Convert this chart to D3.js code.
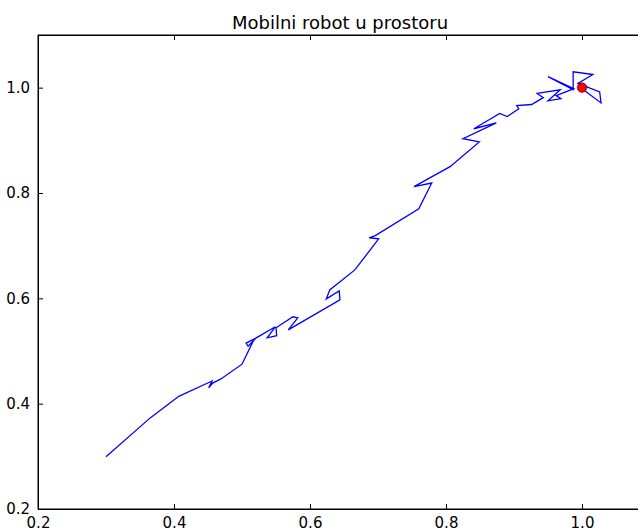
<!DOCTYPE html>
<html>
<head>
<meta charset="utf-8">
<script src="https://d3js.org/d3.v7.min.js"></script>
<style>
  body { margin: 0; background: #fff; }
  text { font-family: "DejaVu Sans", sans-serif; fill: #000; }
</style>
</head>
<body>
<div id="chart"></div>
<script>
// robot path
var pathX = [0.300, 0.365, 0.407, 0.456, 0.451, 0.457, 0.469, 0.500, 0.518, 0.506,
             0.509, 0.521, 0.549, 0.537, 0.551, 0.550, 0.575, 0.582, 0.568, 0.644,
             0.643, 0.624, 0.629, 0.666, 0.701, 0.687, 0.696, 0.760, 0.779, 0.753,
             0.806, 0.849, 0.825, 0.874, 0.841, 0.879, 0.890, 0.907, 0.904, 0.926,
             0.943, 0.934, 0.968, 0.950, 0.969, 0.962, 0.988, 0.950, 0.987, 0.987,
             1.016, 0.994, 1.026, 1.028, 1.000];
var pathY = [0.299, 0.373, 0.414, 0.443, 0.430, 0.439, 0.447, 0.475, 0.523, 0.515,
             0.509, 0.525, 0.546, 0.525, 0.529, 0.544, 0.565, 0.563, 0.540, 0.597,
             0.614, 0.599, 0.616, 0.654, 0.713, 0.715, 0.719, 0.770, 0.819, 0.812,
             0.850, 0.897, 0.903, 0.933, 0.922, 0.951, 0.945, 0.960, 0.966, 0.968,
             0.981, 0.989, 0.996, 0.975, 0.979, 0.985, 0.998, 1.021, 0.996, 1.030,
             1.025, 1.008, 0.992, 0.971, 0.998];
// goal position
var goalX = [1.0];
var goalY = [1.0];
var xTicks = [0.2, 0.4, 0.6, 0.8, 1.0];
var yTicks = [0.2, 0.4, 0.6, 0.8, 1.0];

var W = 638, H = 529;
var mLeft = 38, mTop = 35, mBottom = 509;

var svg = d3.select("#chart").append("svg")
    .attr("width", W)
    .attr("height", H)
    .style("display", "block");

var x = d3.scaleLinear().domain([0.2, 1.1]).range([mLeft, mLeft + 0.9 * 680]);
var y = d3.scaleLinear().domain([0.2, 1.1]).range([mBottom, mTop]);

// title
svg.append("text")
    .attr("x", 340)
    .attr("y", 29)
    .attr("text-anchor", "middle")
    .style("font-size", "18px")
    .text("Mobilni robot u prostoru");

// path
var pts = pathX.map(function (d, i) { return [d, pathY[i]]; });
var line = d3.line()
    .x(function (d) { return x(d[0]); })
    .y(function (d) { return y(d[1]); });

svg.append("path")
    .datum(pts)
    .attr("fill", "none")
    .attr("stroke", "#0000ff")
    .attr("stroke-width", 1.3)
    .attr("stroke-linejoin", "miter")
    .attr("d", line);

svg.selectAll(".goal")
    .data(goalX)
    .enter()
    .append("circle")
    .attr("class", "goal")
    .attr("cx", function (d) { return x(d); })
    .attr("cy", function (d, i) { return y(goalY[i]); })
    .attr("r", 4.8)
    .attr("fill", "#ff0000")
    .attr("stroke", "#000")
    .attr("stroke-width", 0.5);

// axes, matplotlib classic style: ticks pointing inward
svg.append("g")
    .attr("transform", "translate(0," + mBottom + ")")
    .call(d3.axisBottom(x).tickValues(xTicks).tickFormat(d3.format(".1f"))
        .tickSizeInner(-5).tickSizeOuter(0).tickPadding(8));
svg.append("g")
    .attr("transform", "translate(0," + mTop + ")")
    .call(d3.axisTop(x).tickValues(xTicks).tickFormat("")
        .tickSizeInner(-5).tickSizeOuter(0));
svg.append("g")
    .attr("transform", "translate(" + mLeft + ",0)")
    .call(d3.axisLeft(y).tickValues(yTicks).tickFormat(d3.format(".1f"))
        .tickSizeInner(-5).tickSizeOuter(0).tickPadding(8));

svg.selectAll(".tick text")
    .style("font-size", "15px")
    .style("font-family", "DejaVu Sans, sans-serif");
svg.selectAll(".tick line").attr("stroke", "#000");
svg.selectAll(".domain").attr("stroke", "#000");

// frame
svg.append("rect")
    .attr("x", mLeft)
    .attr("y", mTop)
    .attr("width", x(1.1) - mLeft)
    .attr("height", mBottom - mTop)
    .attr("fill", "none")
    .attr("stroke", "#000")
    .attr("stroke-width", 1);
</script>
</body>
</html>
